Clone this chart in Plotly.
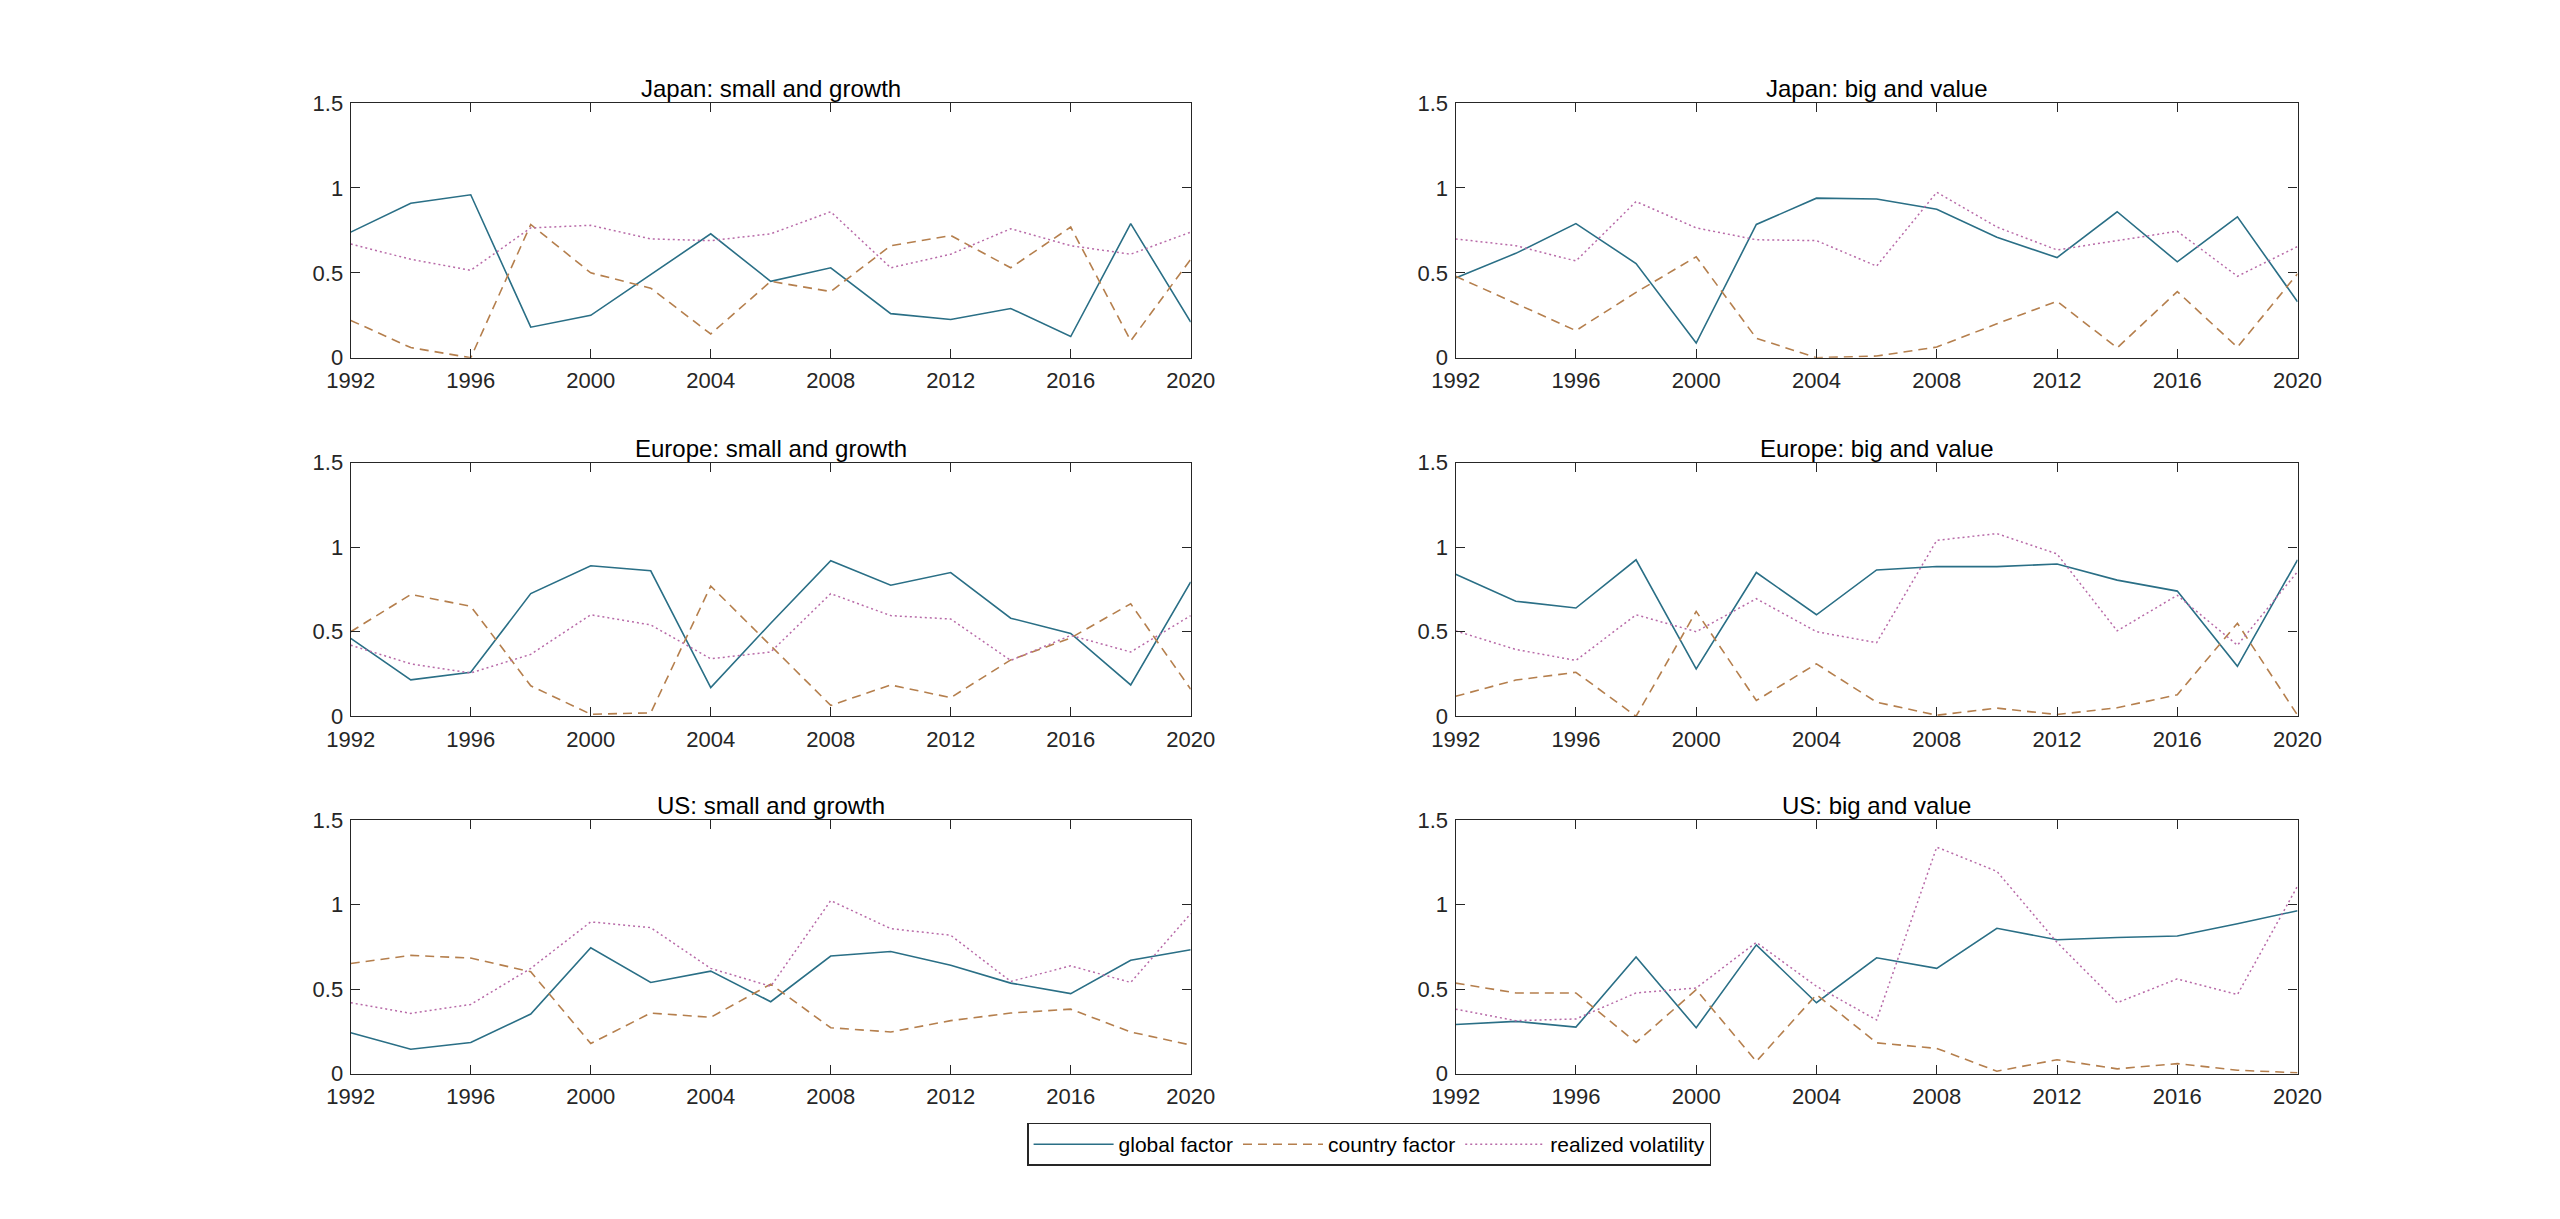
import plotly.graph_objects as go

years = [1992, 1994, 1996, 1998, 2000, 2002, 2004, 2006, 2008, 2010, 2012, 2014, 2016, 2018, 2020]

panel_titles = ["Japan: small and growth", "Japan: big and value",
                "Europe: small and growth", "Europe: big and value",
                "US: small and growth", "US: big and value"]

series_names = ["global factor", "country factor", "realized volatility"]

# Japan: small and growth
jp_sg_global = [0.74, 0.91, 0.96, 0.18, 0.25, 0.49, 0.73, 0.45, 0.53, 0.26, 0.225, 0.29, 0.125, 0.79, 0.21]
jp_sg_country = [0.22, 0.06, 0.0, 0.785, 0.50, 0.41, 0.14, 0.45, 0.39, 0.66, 0.72, 0.53, 0.77, 0.10, 0.58]
jp_sg_vol = [0.67, 0.58, 0.515, 0.765, 0.78, 0.70, 0.69, 0.73, 0.86, 0.53, 0.61, 0.76, 0.66, 0.61, 0.74]

# Japan: big and value
jp_bv_global = [0.47, 0.615, 0.79, 0.555, 0.087, 0.785, 0.94, 0.935, 0.875, 0.71, 0.59, 0.86, 0.565, 0.83, 0.33]
jp_bv_country = [0.48, 0.32, 0.16, 0.385, 0.595, 0.115, 0.0, 0.01, 0.063, 0.20, 0.333, 0.058, 0.39, 0.062, 0.495]
jp_bv_vol = [0.70, 0.66, 0.57, 0.92, 0.765, 0.695, 0.69, 0.54, 0.975, 0.77, 0.635, 0.69, 0.745, 0.48, 0.655]

# Europe: small and growth
eu_sg_global = [0.46, 0.215, 0.26, 0.725, 0.89, 0.86, 0.17, 0.55, 0.92, 0.775, 0.85, 0.58, 0.49, 0.185, 0.795]
eu_sg_country = [0.50, 0.72, 0.65, 0.18, 0.012, 0.02, 0.77, 0.42, 0.064, 0.185, 0.11, 0.333, 0.463, 0.665, 0.16]
eu_sg_vol = [0.42, 0.31, 0.256, 0.366, 0.60, 0.54, 0.34, 0.38, 0.725, 0.595, 0.575, 0.33, 0.478, 0.38, 0.595]

# Europe: big and value
eu_bv_global = [0.84, 0.68, 0.64, 0.925, 0.28, 0.85, 0.60, 0.865, 0.885, 0.885, 0.90, 0.805, 0.74, 0.295, 0.925]
eu_bv_country = [0.118, 0.214, 0.26, 0.0, 0.62, 0.093, 0.31, 0.083, 0.006, 0.048, 0.01, 0.05, 0.127, 0.55, 0.006]
eu_bv_vol = [0.505, 0.395, 0.33, 0.60, 0.50, 0.695, 0.50, 0.435, 1.04, 1.08, 0.96, 0.505, 0.715, 0.42, 0.855]

# US: small and growth
us_sg_global = [0.243, 0.145, 0.185, 0.353, 0.745, 0.54, 0.607, 0.426, 0.696, 0.723, 0.642, 0.536, 0.474, 0.671, 0.733]
us_sg_country = [0.652, 0.70, 0.684, 0.603, 0.179, 0.359, 0.334, 0.53, 0.272, 0.247, 0.314, 0.359, 0.382, 0.247, 0.17]
us_sg_vol = [0.42, 0.357, 0.41, 0.623, 0.898, 0.864, 0.623, 0.517, 1.024, 0.858, 0.819, 0.546, 0.638, 0.54, 0.947]

# US: big and value
us_bv_global = [0.291, 0.31, 0.276, 0.69, 0.272, 0.762, 0.42, 0.686, 0.623, 0.86, 0.792, 0.806, 0.815, 0.887, 0.964]
us_bv_country = [0.536, 0.478, 0.478, 0.185, 0.497, 0.073, 0.468, 0.183, 0.15, 0.015, 0.083, 0.029, 0.06, 0.021, 0.006]
us_bv_vol = [0.382, 0.314, 0.324, 0.478, 0.507, 0.777, 0.517, 0.318, 1.34, 1.197, 0.777, 0.42, 0.561, 0.468, 1.11]

x_tick_vals = [1992, 1996, 2000, 2004, 2008, 2012, 2016, 2020]
x_tick_text = ["1992", "1996", "2000", "2004", "2008", "2012", "2016", "2020"]
y_tick_vals = [0, 0.5, 1, 1.5]
y_tick_text = ["0", "0.5", "1", "1.5"]

panels = [
    (jp_sg_global, jp_sg_country, jp_sg_vol),
    (jp_bv_global, jp_bv_country, jp_bv_vol),
    (eu_sg_global, eu_sg_country, eu_sg_vol),
    (eu_bv_global, eu_bv_country, eu_bv_vol),
    (us_sg_global, us_sg_country, us_sg_vol),
    (us_bv_global, us_bv_country, us_bv_vol),
]

W, H = 2560, 1219
col_px = [(333, 1189), (1459, 2317)]
row_px = [(93, 353), (460, 719), (825, 1084)]

colors = ["#2a6f86", "#b57f4d", "#b86aa8"]
dashes = ["solid", "9px,6px", "2px,3px"]
widths = [1.6, 1.6, 1.5]
FONT = "Liberation Sans, Arial, sans-serif"

fig = go.Figure()
layout = {}
annotations = []
for i, (g, c, v) in enumerate(panels):
    r, k = divmod(i, 2)
    ax = "" if i == 0 else str(i + 1)
    x0, x1 = col_px[k]
    y0, y1 = row_px[r]
    xd = [x0 / W, x1 / W]
    yd = [1 - y1 / H, 1 - y0 / H]
    for j, vals in enumerate((g, c, v)):
        fig.add_trace(go.Scatter(
            x=years, y=vals, mode="lines", name=series_names[j],
            line=dict(color=colors[j], width=widths[j], dash=dashes[j]),
            xaxis="x" + ax, yaxis="y" + ax, showlegend=(i == 0),
            hoverinfo="x+y"))
    common = dict(showline=True, linecolor="#262626", linewidth=1.3, mirror="ticks",
                  ticks="inside", ticklen=9, tickcolor="#262626", tickwidth=1.2,
                  showgrid=False, zeroline=False, fixedrange=True,
                  tickfont=dict(family=FONT, size=22, color="#262626"))
    layout["xaxis" + ax] = dict(domain=xd, range=[1992, 2020], anchor="y" + ax,
                                tickvals=x_tick_vals, ticktext=x_tick_text,
                                ticklabelstandoff=3, **common)
    layout["yaxis" + ax] = dict(domain=yd, range=[0, 1.5], anchor="x" + ax,
                                tickvals=y_tick_vals, ticktext=y_tick_text,
                                ticklabelstandoff=2, **common)
    annotations.append(dict(text=panel_titles[i], xref="paper", yref="paper",
                            x=(xd[0] + xd[1]) / 2, y=yd[1], xanchor="center",
                            yanchor="bottom", yshift=-1, showarrow=False,
                            font=dict(family=FONT, size=24, color="#000000")))

fig.update_layout(
    width=W, height=H, margin=dict(l=0, r=0, t=0, b=0),
    paper_bgcolor="white", plot_bgcolor="white",
    font=dict(family=FONT, size=22, color="#000000"),
    annotations=annotations,
    showlegend=True,
    legend=dict(orientation="h", x=1371 / W, y=1 - 1156 / H, xanchor="center",
                yanchor="middle", bordercolor="#262626", borderwidth=1.3,
                bgcolor="white", itemwidth=80, tracegroupgap=0,
                font=dict(family=FONT, size=21, color="#000000")),
    **layout)

fig.write_html(
    "out.html",
    config={"displayModeBar": False},
    post_script="document.body.style.margin='0';document.body.style.overflow='hidden';"
                "document.documentElement.style.overflow='hidden';")
